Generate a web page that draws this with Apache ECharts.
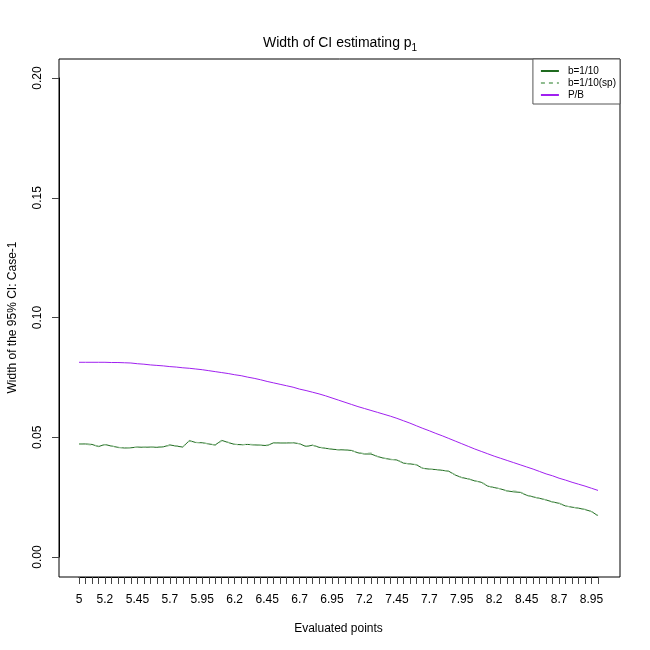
<!DOCTYPE html>
<html>
<head>
<meta charset="utf-8">
<script src="https://cdn.jsdelivr.net/npm/echarts@6/dist/echarts.min.js"></script>
<style>html,body{margin:0;padding:0;background:#fff}#c{width:650px;height:650px}</style>
</head>
<body>
<div id="c"></div>
<script>
var xVals = [5,5.05,5.1,5.15,5.2,5.25,5.3,5.35,5.4,5.45,5.5,5.55,5.6,5.65,5.7,5.75,5.8,5.85,5.9,5.95,
6,6.05,6.1,6.15,6.2,6.25,6.3,6.35,6.4,6.45,6.5,6.55,6.6,6.65,6.7,6.75,6.8,6.85,6.9,6.95,
7,7.05,7.1,7.15,7.2,7.25,7.3,7.35,7.4,7.45,7.5,7.55,7.6,7.65,7.7,7.75,7.8,7.85,7.9,7.95,
8,8.05,8.1,8.15,8.2,8.25,8.3,8.35,8.4,8.45,8.5,8.55,8.6,8.65,8.7,8.75,8.8,8.85,8.9,8.95,9];
var bVals = [0.0472,0.0472,0.0470,0.0461,0.0470,0.0463,0.0458,0.0455,0.0456,0.0459,
0.0458,0.0459,0.0458,0.0460,0.0468,0.0463,0.0459,0.0486,0.0478,0.0477,
0.0472,0.0468,0.0487,0.0478,0.0470,0.0469,0.0470,0.0468,0.0467,0.0465,
0.0477,0.0476,0.0476,0.0477,0.0473,0.0461,0.0467,0.0458,0.0454,0.0450,
0.0448,0.0447,0.0445,0.0435,0.0430,0.0430,0.0420,0.0412,0.0408,0.0405,
0.0392,0.0389,0.0385,0.0370,0.0367,0.0365,0.0362,0.0358,0.0342,0.0332,
0.0326,0.0318,0.0312,0.0296,0.0290,0.0284,0.0276,0.0272,0.0270,0.0258,
0.0251,0.0245,0.0238,0.0230,0.0224,0.0213,0.0208,0.0204,0.0198,0.0190,0.0172];
var spVals = [0.0473,0.0471,0.0468,0.0463,0.0469,0.0464,0.0457,0.0456,0.0457,0.0458,
0.0459,0.0458,0.0459,0.0461,0.0466,0.0464,0.0460,0.0484,0.0479,0.0476,
0.0473,0.0467,0.0485,0.0479,0.0471,0.0468,0.0471,0.0469,0.0466,0.0467,
0.0476,0.0477,0.0475,0.0478,0.0472,0.0463,0.0466,0.0459,0.0455,0.0451,
0.0447,0.0448,0.0444,0.0436,0.0431,0.0434,0.0419,0.0413,0.0407,0.0406,
0.0393,0.0388,0.0386,0.0371,0.0366,0.0366,0.0361,0.0359,0.0343,0.0331,
0.0327,0.0317,0.0313,0.0297,0.0289,0.0285,0.0275,0.0275,0.0272,0.0257,
0.0252,0.0244,0.0239,0.0229,0.0225,0.0212,0.0209,0.0203,0.0199,0.0189,0.0173];
var pbVals = [0.0813,0.0813,0.0813,0.0813,0.0813,0.0812,0.0812,0.0811,0.0810,0.0807,
0.0805,0.0802,0.0800,0.0798,0.0795,0.0793,0.0790,0.0788,0.0785,0.0782,
0.0778,0.0774,0.0770,0.0766,0.0761,0.0757,0.0751,0.0746,0.0740,0.0733,
0.0727,0.0721,0.0715,0.0709,0.0701,0.0695,0.0688,0.0681,0.0673,0.0664,
0.0655,0.0646,0.0637,0.0628,0.0620,0.0612,0.0604,0.0596,0.0588,0.0579,
0.0569,0.0559,0.0548,0.0537,0.0527,0.0516,0.0506,0.0495,0.0484,0.0473,
0.0462,0.0451,0.0441,0.0431,0.0421,0.0412,0.0403,0.0394,0.0385,0.0376,
0.0367,0.0357,0.0347,0.0339,0.0329,0.0321,0.0312,0.0304,0.0296,0.0287,0.0278];
var yTicks = ['0.00','0.05','0.10','0.15','0.20'];
var seriesNames = ['b=1/10','b=1/10(sp)','P/B'];

function pairs(vals){ return xVals.map(function(x,i){ return [x, vals[i]]; }); }
var FONT = 'Liberation Sans, Arial, Helvetica, sans-serif';

var chart = echarts.init(document.getElementById('c'));
chart.setOption({
  animation: false,
  backgroundColor: '#fff',
  textStyle: { fontFamily: FONT },
  title: {
    text: '{a|Width of CI estimating p}{s|1}',
    left: 258, top: 29,
    textStyle: {
      fontWeight: 'normal',
      rich: {
        a: { fontSize: 14, fontFamily: FONT, color: '#000', fontWeight: 'normal' },
        s: { fontSize: 10, fontFamily: FONT, color: '#000', fontWeight: 'normal', padding: [9,0,0,0] }
      }
    }
  },
  legend: {
    data: seriesNames,
    orient: 'vertical',
    right: 30, top: 59,
    padding: [7,4,4,7],
    itemGap: 2,
    itemWidth: 18, itemHeight: 10,
    borderColor: '#555', borderWidth: 1,
    backgroundColor: '#fff',
    itemStyle: { opacity: 0 },
    textStyle: { fontSize: 10, fontFamily: FONT, color: '#000', padding: [0,0,0,4] }
  },
  grid: [
    { left: 79, right: 52, top: 78, bottom: 93, containLabel: false, outerBoundsMode: 'none' },
    { left: 59, right: 30, top: 59, bottom: 73, show: true, borderColor: '#000', borderWidth: 1, backgroundColor: 'transparent', outerBoundsMode: 'none' }
  ],
  xAxis: [
    {
      type: 'value', gridIndex: 0, min: 5, max: 9, interval: 0.05,
      position: 'bottom', offset: 20,
      name: 'Evaluated points', nameLocation: 'middle', nameGap: 46,
      nameTextStyle: { fontSize: 12, color: '#000', fontFamily: FONT },
      axisLine: { show: true, onZero: false, lineStyle: { color: '#000', width: 1 } },
      axisTick: { show: true, length: 7, inside: false, lineStyle: { color: '#444' } },
      splitLine: { show: false },
      axisLabel: {
        fontSize: 12, color: '#000', margin: 17, fontFamily: FONT,
        showMinLabel: true, showMaxLabel: true, hideOverlap: false,
        formatter: function (v) {
          var i = Math.round((v - 5) / 0.05);
          if (i === 0 || (i >= 4 && (i - 4) % 5 === 0)) {
            return String(xVals[i]);
          }
          return '';
        }
      }
    },
    { type: 'value', gridIndex: 1, show: false, min: 0, max: 1 }
  ],
  yAxis: [
    {
      type: 'value', gridIndex: 0, min: 0, max: 0.2, interval: 0.05,
      position: 'left', offset: 20,
      name: 'Width of the 95% CI: Case-1', nameLocation: 'middle', nameGap: 40, nameRotate: 90,
      nameTextStyle: { fontSize: 12, color: '#000', fontFamily: FONT },
      axisLine: { show: true, onZero: false, lineStyle: { color: '#000', width: 1 } },
      axisTick: { show: true, length: 7, lineStyle: { color: '#444' } },
      splitLine: { show: false },
      axisLabel: {
        fontSize: 12, color: '#000', margin: 15, rotate: 90, fontFamily: FONT,
        formatter: function (v) { return yTicks[Math.round(v / 0.05)]; }
      }
    },
    { type: 'value', gridIndex: 1, show: false, min: 0, max: 1 }
  ],
  series: [
    { name: seriesNames[0], type: 'line', xAxisIndex: 0, yAxisIndex: 0, data: pairs(bVals), symbol: 'none',
      lineStyle: { color: '#1f6a1f', width: 1 }, itemStyle: { color: '#1f6a1f' }, z: 3 },
    { name: seriesNames[1], type: 'line', xAxisIndex: 0, yAxisIndex: 0, data: pairs(spVals), symbol: 'none',
      lineStyle: { color: '#8fbc8f', width: 1.2, type: [4, 4] }, itemStyle: { color: '#8fbc8f' }, z: 4 },
    { name: seriesNames[2], type: 'line', xAxisIndex: 0, yAxisIndex: 0, data: pairs(pbVals), symbol: 'none',
      lineStyle: { color: '#a020f0', width: 1 }, itemStyle: { color: '#a020f0' }, z: 2 }
  ]
});
</script>
</body>
</html>
